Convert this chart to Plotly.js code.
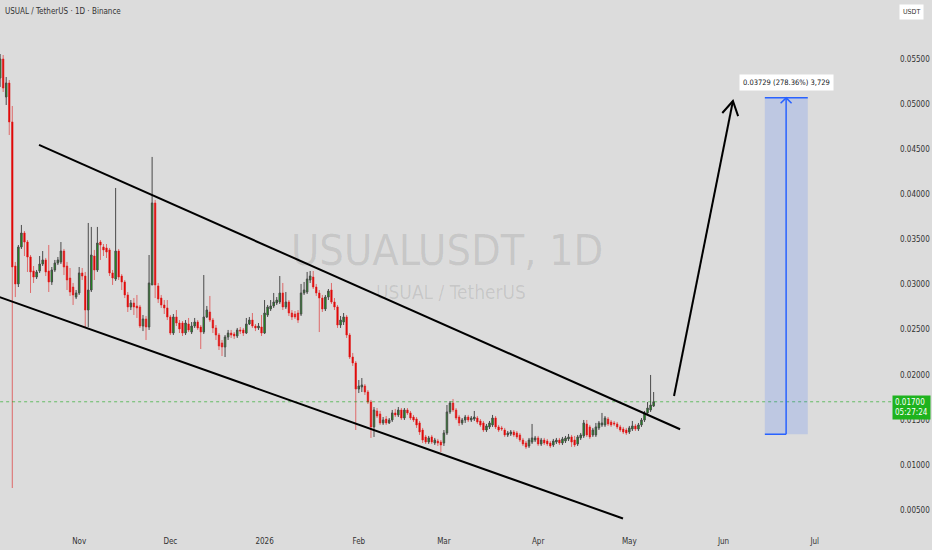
<!DOCTYPE html>
<html>
<head>
<meta charset="utf-8">
<script src="https://cdn.plot.ly/plotly-3.0.1.min.js"></script>
<style>
  html, body { margin: 0; padding: 0; background: #dcdcdc; }
  #chart { width: 932px; height: 550px; }
</style>
</head>
<body>
<div id="chart"></div>
<script>
// ---- data (USUALUSDT daily) ----
const startDate = '2025-10-06';

const openP = [
  // Oct 6-31
  0.05289,0.05500,0.05079,0.05234,0.04802,0.03205,0.03006,0.03416,0.03571,0.03471,0.03305,0.03150,0.03083,0.03150,0.03227,0.03272,0.03150,0.03028,0.03161,0.03238,0.03250,0.03371,0.03205,0.03072,0.02972,0.02861,
  // Nov
  0.02906,0.03128,0.03094,0.02717,0.02939,0.03316,0.03161,0.03471,0.03416,0.03405,0.03383,0.03128,0.03061,0.03371,0.03094,0.03028,0.02884,0.02751,0.02795,0.02762,0.02751,0.02540,0.02618,0.02529,0.02995,0.03904,0.02984,0.02850,0.02773,0.02740,
  // Dec
  0.02640,0.02462,0.02640,0.02573,0.02573,0.02462,0.02562,0.02473,0.02540,0.02584,0.02529,0.02473,0.02640,0.02695,0.02606,0.02518,0.02440,0.02352,0.02307,0.02418,0.02462,0.02451,0.02429,0.02496,0.02496,0.02462,0.02562,0.02606,0.02540,0.02518,0.02529,
  // Jan
  0.02462,0.02662,0.02729,0.02762,0.02795,0.02806,0.02906,0.02751,0.02806,0.02684,0.02673,0.02684,0.02673,0.02906,0.02917,0.03050,0.03083,0.02972,0.02906,0.02850,0.02729,0.02861,0.02939,0.02806,0.02751,0.02551,0.02584,0.02640,0.02440,0.02196,0.02130,
  // Feb
  0.01841,0.01864,0.01875,0.01808,0.01697,0.01421,0.01598,0.01565,0.01465,0.01509,0.01465,0.01498,0.01576,0.01554,0.01609,0.01520,0.01609,0.01576,0.01531,0.01509,0.01465,0.01387,0.01310,0.01254,0.01310,0.01243,0.01265,0.01254,
  // Mar
  0.01243,0.01354,0.01587,0.01686,0.01609,0.01531,0.01465,0.01498,0.01531,0.01498,0.01509,0.01520,0.01487,0.01465,0.01387,0.01421,0.01443,0.01520,0.01421,0.01410,0.01387,0.01332,0.01343,0.01365,0.01354,0.01332,0.01276,0.01243,0.01210,0.01254,0.01276,
  // Apr
  0.01299,0.01232,0.01276,0.01265,0.01243,0.01221,0.01254,0.01276,0.01243,0.01265,0.01288,0.01310,0.01276,0.01232,0.01299,0.01321,0.01454,0.01421,0.01332,0.01332,0.01410,0.01443,0.01443,0.01509,0.01476,0.01465,0.01454,0.01421,0.01398,0.01387,
  // May 1-9
  0.01365,0.01398,0.01432,0.01398,0.01443,0.01498,0.01576,0.01609,0.01653
];
const highP = [
  0.05555,0.05544,0.05300,0.05267,0.04979,0.03250,0.03438,0.03660,0.03593,0.03493,0.03327,0.03205,0.03161,0.03316,0.03371,0.03294,0.03438,0.03194,0.03272,0.03305,0.03471,0.03394,0.03250,0.03183,0.03017,0.02939,
  0.03194,0.03183,0.03139,0.03682,0.03638,0.03383,0.03638,0.03493,0.03449,0.03449,0.03405,0.03161,0.04070,0.03394,0.03116,0.03050,0.02917,0.02828,0.02850,0.02884,0.02773,0.02662,0.02651,0.03327,0.04414,0.03937,0.03017,0.02884,0.02828,0.02828,
  0.02662,0.02673,0.02717,0.02606,0.02595,0.02606,0.02629,0.02584,0.02629,0.02606,0.02551,0.03105,0.02762,0.02873,0.02629,0.02551,0.02462,0.02385,0.02440,0.02496,0.02496,0.02473,0.02518,0.02529,0.02518,0.02629,0.02640,0.02684,0.02562,0.02573,0.02662,
  0.02828,0.02773,0.02828,0.02906,0.02861,0.03094,0.03017,0.02917,0.02828,0.02717,0.02706,0.02717,0.03006,0.03028,0.03139,0.03150,0.03150,0.03006,0.02939,0.02884,0.02884,0.02950,0.03017,0.02850,0.02773,0.02651,0.02684,0.02662,0.02462,0.02241,0.02152,
  0.01941,0.01963,0.01897,0.01830,0.01720,0.01642,0.01631,0.01598,0.01531,0.01542,0.01520,0.01609,0.01620,0.01642,0.01631,0.01631,0.01631,0.01598,0.01554,0.01531,0.01487,0.01410,0.01332,0.01321,0.01332,0.01299,0.01288,0.01276,
  0.01387,0.01664,0.01708,0.01731,0.01631,0.01554,0.01520,0.01554,0.01554,0.01542,0.01598,0.01542,0.01509,0.01487,0.01454,0.01487,0.01554,0.01542,0.01443,0.01432,0.01410,0.01376,0.01387,0.01387,0.01376,0.01354,0.01299,0.01265,0.01299,0.01454,0.01321,
  0.01321,0.01299,0.01299,0.01288,0.01265,0.01288,0.01299,0.01299,0.01310,0.01321,0.01343,0.01332,0.01321,0.01332,0.01354,0.01498,0.01498,0.01443,0.01410,0.01465,0.01487,0.01576,0.01542,0.01531,0.01498,0.01487,0.01476,0.01443,0.01421,0.01410,
  0.01432,0.01487,0.01454,0.01465,0.01520,0.01598,0.01697,0.01997,0.01808
];
const lowP = [
  0.05190,0.05134,0.04990,0.04657,0.00744,0.02861,0.02972,0.03394,0.03316,0.03139,0.02906,0.03017,0.03061,0.03128,0.03205,0.03094,0.02917,0.02995,0.03139,0.03216,0.03227,0.03105,0.02939,0.02873,0.02773,0.02839,
  0.02884,0.03050,0.02529,0.02529,0.02917,0.03050,0.03139,0.03272,0.03316,0.03294,0.03094,0.02995,0.03039,0.03050,0.02939,0.02850,0.02695,0.02717,0.02662,0.02629,0.02518,0.02484,0.02385,0.02496,0.02995,0.02850,0.02795,0.02740,0.02673,0.02606,
  0.02440,0.02440,0.02540,0.02462,0.02429,0.02440,0.02473,0.02451,0.02518,0.02496,0.02285,0.02451,0.02629,0.02584,0.02462,0.02385,0.02274,0.02207,0.02196,0.02385,0.02407,0.02396,0.02407,0.02451,0.02429,0.02451,0.02551,0.02518,0.02484,0.02496,0.02429,
  0.02451,0.02640,0.02706,0.02740,0.02773,0.02784,0.02717,0.02729,0.02651,0.02606,0.02618,0.02573,0.02651,0.02884,0.02895,0.03017,0.02950,0.02873,0.02473,0.02695,0.02706,0.02828,0.02784,0.02717,0.02518,0.02518,0.02551,0.02407,0.02174,0.02097,0.01387,
  0.01797,0.01808,0.01775,0.01675,0.01299,0.01310,0.01520,0.01443,0.01443,0.01443,0.01454,0.01476,0.01531,0.01531,0.01498,0.01498,0.01554,0.01498,0.01476,0.01410,0.01332,0.01243,0.01232,0.01232,0.01232,0.01221,0.01210,0.01143,
  0.01210,0.01332,0.01565,0.01587,0.01498,0.01432,0.01443,0.01465,0.01476,0.01476,0.01487,0.01454,0.01421,0.01365,0.01365,0.01398,0.01421,0.01398,0.01365,0.01376,0.01310,0.01310,0.01321,0.01310,0.01288,0.01254,0.01210,0.01177,0.01188,0.01232,0.01254,
  0.01210,0.01210,0.01221,0.01210,0.01188,0.01199,0.01232,0.01221,0.01221,0.01243,0.01265,0.01199,0.01199,0.01210,0.01276,0.01299,0.01310,0.01288,0.01310,0.01310,0.01387,0.01421,0.01421,0.01432,0.01421,0.01432,0.01398,0.01365,0.01343,0.01332,
  0.01343,0.01376,0.01376,0.01376,0.01421,0.01476,0.01554,0.01587,0.01642
];
const closeP = [
  0.05500,0.05178,0.05234,0.04802,0.03194,0.03006,0.03416,0.03571,0.03471,0.03305,0.03139,0.03083,0.03139,0.03227,0.03272,0.03139,0.03028,0.03161,0.03238,0.03272,0.03371,0.03194,0.03050,0.02917,0.02884,0.02906,
  0.03128,0.03094,0.02717,0.02939,0.03327,0.03161,0.03460,0.03438,0.03383,0.03360,0.03128,0.03072,0.03371,0.03083,0.03028,0.02884,0.02751,0.02795,0.02751,0.02740,0.02540,0.02618,0.02529,0.03017,0.03904,0.02995,0.02839,0.02773,0.02740,0.02640,
  0.02462,0.02640,0.02573,0.02507,0.02462,0.02573,0.02496,0.02540,0.02584,0.02518,0.02473,0.02640,0.02717,0.02606,0.02518,0.02440,0.02318,0.02307,0.02418,0.02462,0.02440,0.02429,0.02496,0.02484,0.02462,0.02562,0.02606,0.02540,0.02518,0.02540,0.02462,
  0.02684,0.02751,0.02762,0.02806,0.02828,0.02906,0.02751,0.02806,0.02684,0.02640,0.02640,0.02606,0.02906,0.02939,0.03061,0.03094,0.02972,0.02906,0.02850,0.02729,0.02861,0.02928,0.02806,0.02751,0.02551,0.02606,0.02640,0.02440,0.02196,0.02130,0.01841,
  0.01875,0.01886,0.01808,0.01697,0.01421,0.01609,0.01542,0.01465,0.01498,0.01465,0.01498,0.01576,0.01554,0.01609,0.01520,0.01609,0.01576,0.01520,0.01498,0.01443,0.01365,0.01276,0.01254,0.01299,0.01254,0.01276,0.01243,0.01221,
  0.01354,0.01587,0.01686,0.01609,0.01520,0.01465,0.01498,0.01531,0.01498,0.01520,0.01531,0.01476,0.01443,0.01387,0.01432,0.01465,0.01520,0.01421,0.01387,0.01398,0.01332,0.01354,0.01365,0.01332,0.01310,0.01276,0.01232,0.01199,0.01276,0.01299,0.01299,
  0.01232,0.01276,0.01243,0.01232,0.01210,0.01265,0.01276,0.01243,0.01288,0.01299,0.01310,0.01254,0.01221,0.01310,0.01332,0.01465,0.01332,0.01310,0.01387,0.01421,0.01465,0.01465,0.01520,0.01454,0.01443,0.01454,0.01421,0.01387,0.01365,0.01354,
  0.01410,0.01432,0.01398,0.01443,0.01498,0.01576,0.01631,0.01664,0.01700
];

// drawings (date, price)
const upperLineX = ['2025-10-18 19:00', '2026-05-17 17:00'];
const upperLineY = [0.04547, 0.01395];
const lowerLineX = ['2025-10-05 12:00', '2026-04-28 22:00'];
const lowerLineY = [0.02864, 0.00406];
const arrowX = ['2026-05-15 17:00', '2026-06-04 02:00'];
const arrowY = [0.01764, 0.05034];
const arrowHeadX = ['2026-05-31 14:00', '2026-06-04 02:00', '2026-06-05 19:00'];
const arrowHeadY = [0.04901, 0.05034, 0.04866];
const rangeX = ['2026-06-14 14:00', '2026-06-28 17:00'];
const rangeMidX = '2026-06-21 14:00';
const rangeHeadX = ['2026-06-19 18:30', '2026-06-21 14:00', '2026-06-23 09:00'];
const rangeHeadY = [0.05009, 0.05069, 0.05009];
const rangeBottom = 0.01340;
const rangeTop = 0.05069;
const rangeLabel = '0.03729 (278.36%) 3,729';
const lastPrice = 0.01700;
const lastPriceText = '0.01700<br>05:27:24';

const tickDates = ['2025-11-01','2025-12-01','2026-01-01','2026-02-01','2026-03-01','2026-04-01','2026-05-01','2026-06-01','2026-07-01'];
const tickText = ['Nov','Dec','2026','Feb','Mar','Apr','May','Jun','Jul'];
const priceTicks = [0.005,0.010,0.015,0.020,0.025,0.030,0.035,0.040,0.045,0.050,0.055];

// consecutive daily dates
const dates = [];
{
  const d0 = new Date(startDate + 'T00:00:00Z');
  for (let i = 0; i < closeP.length; i++) {
    const d = new Date(d0.getTime() + i * 86400000);
    dates.push(d.toISOString().slice(0, 10));
  }
}

const FONT = '"DejaVu Sans Condensed", "Liberation Sans Narrow", "Liberation Sans", sans-serif';

const traces = [
  {
    type: 'scatter', mode: 'lines', x: [dates[0], '2026-07-30'], y: [lastPrice, lastPrice],
    line: { color: 'rgba(0,160,0,0.55)', width: 1, dash: 'dot' }, hoverinfo: 'skip', showlegend: false
  },
  {
    type: 'candlestick', x: dates, open: openP, high: highP, low: lowP, close: closeP,
    increasing: { line: { color: '#4a4a4a', width: 1 }, fillcolor: '#00b400' },
    decreasing: { line: { color: 'rgba(225,30,30,0.6)', width: 1 }, fillcolor: '#e00000' },
    whiskerwidth: 0, hoverinfo: 'skip', showlegend: false
  },
  {
    type: 'scatter', mode: 'lines', x: upperLineX, y: upperLineY,
    line: { color: '#000000', width: 2 }, hoverinfo: 'skip', showlegend: false
  },
  {
    type: 'scatter', mode: 'lines', x: lowerLineX, y: lowerLineY,
    line: { color: '#000000', width: 2 }, hoverinfo: 'skip', showlegend: false
  },
  {
    type: 'scatter', mode: 'lines', x: arrowX, y: arrowY,
    line: { color: '#000000', width: 2 }, hoverinfo: 'skip', showlegend: false
  },
  {
    type: 'scatter', mode: 'lines', x: arrowHeadX, y: arrowHeadY,
    line: { color: '#000000', width: 2 }, hoverinfo: 'skip', showlegend: false
  },
  {
    type: 'scatter', mode: 'lines', fill: 'toself', fillcolor: 'rgba(41,98,255,0.17)',
    x: [rangeX[0], rangeX[1], rangeX[1], rangeX[0], rangeX[0]],
    y: [rangeBottom, rangeBottom, rangeTop, rangeTop, rangeBottom],
    line: { width: 0, color: 'rgba(0,0,0,0)' }, hoverinfo: 'skip', showlegend: false
  },
  {
    type: 'scatter', mode: 'lines', x: [rangeX[0], rangeX[1]], y: [rangeTop, rangeTop],
    line: { color: '#2962ff', width: 1.5 }, hoverinfo: 'skip', showlegend: false
  },
  {
    type: 'scatter', mode: 'lines', x: [rangeX[0], rangeMidX], y: [rangeBottom, rangeBottom],
    line: { color: '#2962ff', width: 1.5 }, hoverinfo: 'skip', showlegend: false
  },
  {
    type: 'scatter', mode: 'lines', x: [rangeMidX, rangeMidX], y: [rangeBottom, rangeTop],
    line: { color: '#2962ff', width: 1.5 }, hoverinfo: 'skip', showlegend: false
  },
  {
    type: 'scatter', mode: 'lines', x: rangeHeadX, y: rangeHeadY,
    line: { color: '#2962ff', width: 1.5 }, hoverinfo: 'skip', showlegend: false
  }
];

const layout = {
  width: 932, height: 550,
  margin: { l: 0, r: 40, t: 0, b: 20, pad: 0 },
  paper_bgcolor: '#dcdcdc', plot_bgcolor: '#dcdcdc',
  showlegend: false,
  font: { family: FONT, size: 8, color: '#333333' },
  xaxis: {
    type: 'date', range: ['2025-10-05 23:00', '2026-07-26 10:00'],
    rangeslider: { visible: false },
    showgrid: false, zeroline: false, showline: false, ticks: '',
    tickvals: tickDates, ticktext: tickText, ticklabelstandoff: 5,
    tickfont: { family: FONT, size: 8, color: '#333333' }
  },
  yaxis: {
    side: 'right', range: [0.002784, 0.06154],
    showgrid: false, zeroline: false, showline: false, ticks: '',
    tickvals: priceTicks, tickformat: '.5f', ticklabelstandoff: 7,
    tickfont: { family: FONT, size: 8, color: '#333333' }
  },
  annotations: [
    { xref: 'paper', yref: 'paper', x: 0.501, y: 0.528, text: 'USUALUSDT, 1D', showarrow: false,
      font: { family: FONT, size: 43, color: 'rgba(0,0,0,0.10)' } },
    { xref: 'paper', yref: 'paper', x: 0.506, y: 0.449, text: 'USUAL / TetherUS', showarrow: false,
      font: { family: FONT, size: 19, color: 'rgba(0,0,0,0.10)' } },
    { xref: 'paper', yref: 'paper', x: 0, y: 1, xanchor: 'left', yanchor: 'top', xshift: 3, yshift: -5,
      text: 'USUAL / TetherUS · 1D · Binance', showarrow: false,
      font: { family: FONT, size: 8, color: '#333333' } },
    { xref: 'paper', yref: 'paper', x: 1.0219, y: 0.977, xanchor: 'center', yanchor: 'middle',
      text: 'USDT', showarrow: false, bgcolor: '#ffffff', borderpad: 3,
      font: { family: FONT, size: 7, color: '#333333' } },
    { xref: 'x', yref: 'y', x: rangeMidX, y: rangeTop, xanchor: 'center', yanchor: 'bottom', yshift: 7,
      text: rangeLabel, showarrow: false, bgcolor: '#ffffff', borderpad: 3,
      font: { family: FONT, size: 7.5, color: '#131722' } },
    { xref: 'paper', yref: 'y', x: 1.0005, y: lastPrice, xanchor: 'left', yanchor: 'top', yshift: 7,
      text: lastPriceText, showarrow: false, bgcolor: '#1eb31e', borderpad: 2, align: 'left',
      font: { family: FONT, size: 8, color: '#ffffff' } }
  ]
};

Plotly.newPlot('chart', traces, layout, { displayModeBar: false, staticPlot: true });
</script>
</body>
</html>
